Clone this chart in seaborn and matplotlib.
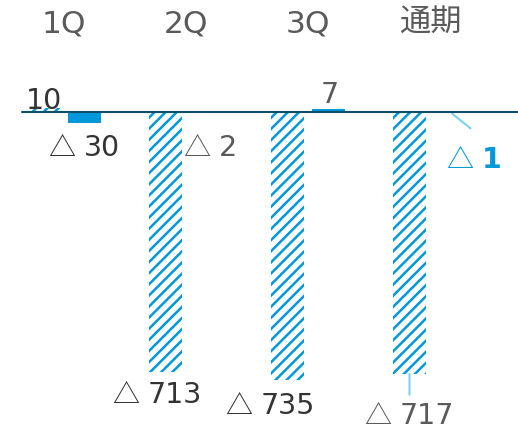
import numpy as np
import pandas as pd
import seaborn as sns
import matplotlib
matplotlib.use("Agg")
import matplotlib.pyplot as plt
import matplotlib.transforms as mtransforms

# data
categories = ["1Q", "2Q", "3Q", "通期"]
hatched_values = [10, -713, -735, -717]
solid_values = [-30, -2, 7, -1]
hatched_labels = ["10", "△ 713", "△ 735", "△ 717"]
solid_labels = ["△ 30", "△ 2", "7", "△ 1"]

sns.set_theme(style="white")
plt.rcParams["font.family"] = ["DejaVu Sans", "Noto Sans CJK JP"]
plt.rcParams["hatch.linewidth"] = 1.8

BLUE = "#0097db"
LINE = "#0b4f6c"
LEADER = "#7fd0f5"
DARK = "#333333"
GRAY = "#5a5a5a"
PX = 0.72  # points per pixel at dpi 100
FS = 20.5

df = pd.DataFrame({
    "cat": categories * 2,
    "series": ["h"] * 4 + ["s"] * 4,
    "value": hatched_values + solid_values,
})

fig = plt.figure(figsize=(5.18, 4.27), dpi=100)
ax = fig.add_axes([0, 0, 1, 1])

sns.barplot(data=df, x="cat", y="value", hue="series", order=categories,
            hue_order=["h", "s"], palette=[BLUE, BLUE], saturation=1,
            width=0.672, gap=0.195, linewidth=0, legend=False, ax=ax)

hatched_bars = ax.containers[0]
solid_bars = ax.containers[1]
for p in hatched_bars:
    p.set_facecolor("white")
    p.set_edgecolor(BLUE)
    p.set_linewidth(0)
    p.set_hatch("///")

ax.set_xlim(-64 / 122, (518 - 64) / 122)
ax.set_ylim(-(427 - 113) / 0.365, 113 / 0.365)
ax.axis("off")

ax.axhline(0, xmin=22 / 518, xmax=1, color=LINE, lw=1.5, zorder=5)

# category headers along the top
trans = mtransforms.blended_transform_factory(ax.transData, ax.transAxes)
for i, c in enumerate(categories):
    ax.text(i, 1 - 32 / 427, c, transform=trans, ha="center", va="baseline",
            fontsize=22.5, color=GRAY)


def bar_end(p):
    x = p.get_x() + p.get_width() / 2
    y = p.get_y() + p.get_height()
    return x, y


def put_label(p, lab, dx, dy, col, bold=False):
    # dx: left edge of the number (px from bar centre), dy: baseline (px, up)
    xy = bar_end(p)
    weight = "bold" if bold else "normal"
    if lab.startswith("△"):
        num = lab.split(" ")[1]
        ax.annotate("△", xy, xytext=((dx - 11) * PX, dy * PX),
                    textcoords="offset points", ha="right", va="baseline",
                    fontsize=FS - 1, color=col, family="Noto Sans CJK JP")
        ax.annotate(num, xy, xytext=((dx - 2) * PX, dy * PX),
                    textcoords="offset points", ha="left", va="baseline",
                    fontsize=FS, color=col, fontweight=weight)
    else:
        ax.annotate(lab, xy, xytext=(dx * PX, dy * PX), textcoords="offset points",
                    ha="center", va="baseline", fontsize=FS, color=col)


# label placement in pixels relative to each bar end
hatched_off = [(0, 0), (-15.5, -29.8), (-24.5, -32.7), (-7.5, -49.5)]
hatched_col = [DARK, DARK, DARK, GRAY]
for p, lab, (dx, dy), col in zip(hatched_bars, hatched_labels, hatched_off, hatched_col):
    put_label(p, lab, dx, dy, col)

solid_off = [(1.5, -32), (14.5, -42.3), (1.5, 7.4), (33.5, -54.6)]
solid_col = [DARK, GRAY, GRAY, BLUE]
solid_bold = [False, False, False, True]
for p, lab, (dx, dy), col, b in zip(solid_bars, solid_labels, solid_off, solid_col, solid_bold):
    put_label(p, lab, dx, dy, col, b)

# leader lines
ax.annotate("", bar_end(hatched_bars[3]), xytext=(0, -21 * PX), textcoords="offset points",
            arrowprops=dict(arrowstyle="-", color=LEADER, lw=1.5, shrinkA=0, shrinkB=0))
ax.annotate("", bar_end(solid_bars[3]), xytext=(20 * PX, -16 * PX), textcoords="offset points",
            arrowprops=dict(arrowstyle="-", color=LEADER, lw=1.5, shrinkA=0, shrinkB=1.5))

fig.savefig("out.png", dpi=100)
